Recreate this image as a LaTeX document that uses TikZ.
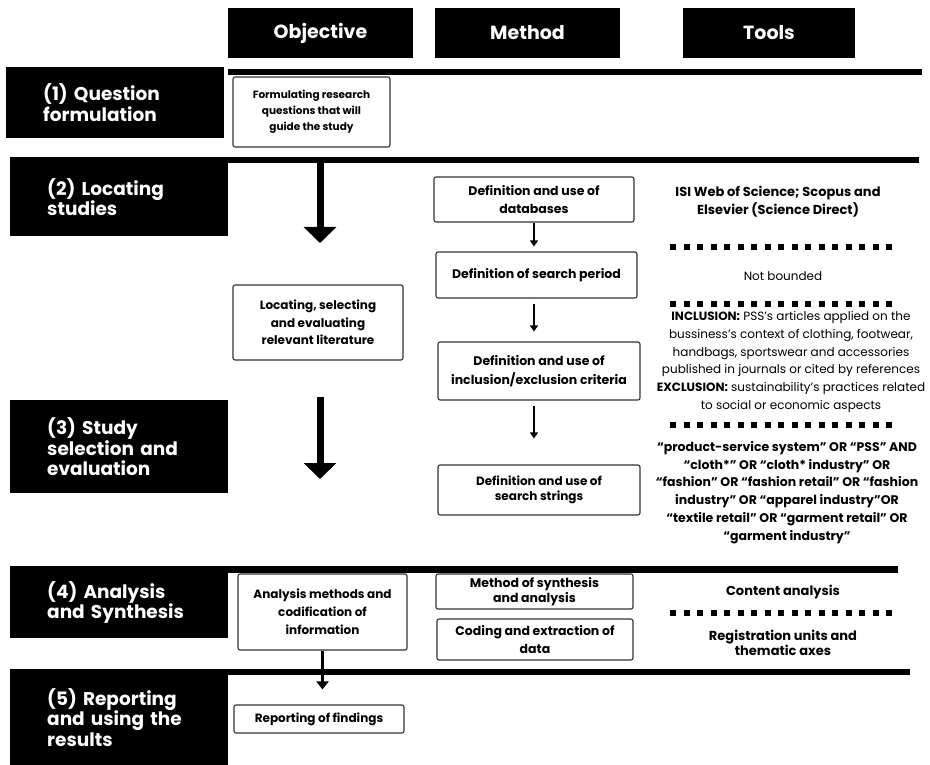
\documentclass[tikz,border=0pt]{standalone}
\usepackage{fontspec}
\setmainfont{Poppins}
\usetikzlibrary{positioning, arrows.meta}

\begin{document}
\begin{tikzpicture}[x=1pt, y=-1pt,
        header/.style={fill=black, text=white, minimum height=50pt, font=\bfseries\fontsize{19}{22}\selectfont},
        stage/.style={fill=black, text=white, anchor=north west, minimum width=218pt, text width=144pt, inner xsep=0pt, align=left, font=\bfseries\fontsize{18.5}{20.5}\selectfont},
        box/.style={draw=black!80, fill=white, line width=1.1pt, rounded corners=2pt, align=center, inner sep=1pt, font=\bfseries\fontsize{12.5}{18}\selectfont},
        tool/.style={align=center, font=\fontsize{12}{17.7}\selectfont},
        rule/.style={line width=6.5pt},
        dots/.style={line width=6pt, dash pattern=on 6pt off 7.5pt},
        bigarrow/.style={line width=7pt, -{Triangle[width=32pt,length=16pt]}},
        smallarrow/.style={line width=1.5pt, -{Triangle[width=8pt,length=6pt]}}
    ]

        \useasboundingbox (0,0) rectangle (930,765);

        \node[header, minimum width=185pt] (objective) at (320.5,33) {Objective};
        \node[header, minimum width=185pt] (method) at (527.5,33) {Method};
        \node[header, minimum width=172pt] (tools) at (769,33) {Tools};

        \draw[rule] (228,72) -- (922,72);
        \draw[rule] (10,160) -- (919,160);
        \draw[rule] (10,569.5) -- (898,569.5);
        \draw[rule] (10,672) -- (910,672);

        \node[stage, minimum height=71pt] (question) at (6,67) {(1)~Question\\formulation};
        \node[stage, minimum height=78pt] (locating) at (10,158) {(2)~Locating\\studies};
        \node[stage, minimum height=93pt] (selection) at (10,400) {(3)~Study\\selection~and\\evaluation};
        \node[stage, minimum height=71pt] (analysis) at (10,567) {(4)~Analysis\\and~Synthesis};
        \node[stage, minimum height=96pt] (reporting) at (10,669) {(5)~Reporting\\and~using~the\\results};

        \node[box, minimum width=157pt, minimum height=70pt, font=\bfseries\fontsize{10.5}{16}\selectfont] (formulating) at (311.5,112) {Formulating research\\questions that will\\guide the study};
        \node[box, minimum width=170pt, minimum height=75pt, font=\bfseries\fontsize{12}{17.5}\selectfont] (literature) at (318,322.5) {Locating, selecting\\and evaluating\\relevant literature};
        \node[box, minimum width=169pt, minimum height=76pt, font=\bfseries\fontsize{12}{18}\selectfont] (codification) at (322.5,612) {Analysis methods and\\codification of\\information};
        \node[box, minimum width=170pt, minimum height=28pt, font=\bfseries\fontsize{12}{18}\selectfont] (findings) at (319,719) {Reporting of findings};

        \node[box, minimum width=200pt, minimum height=45pt] (databases) at (534,199.5) {Definition and use of\\databases};
        \node[box, minimum width=201pt, minimum height=46pt] (period) at (536.5,275) {Definition of search period};
        \node[box, minimum width=202pt, minimum height=58pt, font=\bfseries\fontsize{12.5}{19}\selectfont] (criteria) at (539,371) {Definition and use of\\inclusion/exclusion criteria};
        \node[box, minimum width=202pt, minimum height=50pt, font=\bfseries\fontsize{12}{15}\selectfont] (strings) at (539,490) {Definition and use of\\search strings};
        \node[box, minimum width=197pt, minimum height=35pt, font=\bfseries\fontsize{12.5}{14.5}\selectfont] (synthesis) at (534.5,591.5) {Method of synthesis\\and analysis};
        \node[box, minimum width=196pt, minimum height=41pt] (coding) at (535,639.5) {Coding and extraction of\\data};

        \node[tool, font=\bfseries\fontsize{13}{18}\selectfont] (isi) at (778,202) {ISI Web of Science; Scopus and\\Elsevier (Science Direct)};
        \node[tool] (bounded) at (783,276) {Not bounded};
        \node[tool] (inclusion) at (791,362) {\textbf{INCLUSION:} PSS's articles applied on the\\bussiness's context of clothing, footwear,\\handbags, sportswear and accessories\\published in journals or cited by references\\\textbf{EXCLUSION:} sustainability's practices related\\to social or economic aspects};
        \node[tool, font=\bfseries\fontsize{12.5}{17.7}\selectfont] (search) at (787,492.5) {“product-service system” OR “PSS” AND\\“cloth*” OR “cloth* industry” OR\\“fashion” OR “fashion retail” OR “fashion\\industry” OR “apparel industry”OR\\“textile retail” OR “garment retail” OR\\“garment industry”};
        \node[tool, font=\bfseries\fontsize{13}{17.5}\selectfont] (content) at (783,592) {Content analysis};
        \node[tool, font=\bfseries\fontsize{13}{14.5}\selectfont] (registration) at (783,643) {Registration units and\\thematic axes};

        \draw[dots] (670,247) -- (895,247);
        \draw[dots] (670,304) -- (895,304);
        \draw[dots] (670,425) -- (895,425);
        \draw[dots] (670,613) -- (895,613);

        \coordinate (arrow2 start) at (320,163);
        \coordinate (arrow2 end) at (320,243);
        \coordinate (arrow3 start) at (320,397);
        \coordinate (arrow3 end) at (320,479);
        \draw[bigarrow] (arrow2 start) -- (arrow2 end);
        \draw[bigarrow] (arrow3 start) -- (arrow3 end);

        \draw[smallarrow, shorten >=5pt] (databases.south) -- (databases.south |- period.north);
        \draw[smallarrow, shorten <=5pt, shorten >=10pt] (period.south -| databases.south) -- (databases.south |- criteria.north);
        \draw[smallarrow, shorten <=5pt, shorten >=26pt] (criteria.south -| databases.south) -- (databases.south |- strings.north);
        \draw[line width=2.5pt, -{Triangle[width=12pt,length=8pt]}, shorten >=15pt] (codification.south) -- (codification.south |- findings.north);

    \end{tikzpicture}
\end{document}
